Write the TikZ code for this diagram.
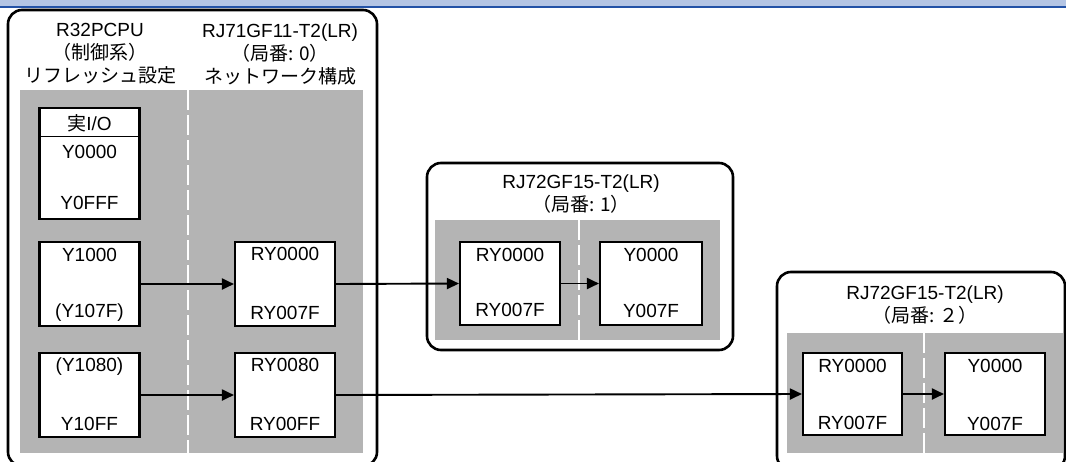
\documentclass[tikz,border=0pt]{standalone}
\usepackage{fontspec}
\setmainfont{Liberation Sans}
\newfontfamily\jp{Noto Sans CJK JP}
\usetikzlibrary{arrows.meta}
\definecolor{bandlight}{HTML}{B4C5E4}
\definecolor{bandline}{HTML}{2352A6}
\definecolor{panelgray}{HTML}{B4B4B4}
\tikzset{
  txt/.style={inner sep=0pt, font=\fontsize{19}{23}\selectfont, align=center},
  unitbox/.style={draw=black, line width=2.6pt, rounded corners=14pt},
  panel/.style={fill=panelgray, draw=none},
  divider/.style={draw=white, line width=1.8pt, dash pattern=on 20pt off 5pt},
  regbox/.style={draw=black, fill=white, line width=2.1pt, minimum width=100pt, minimum height=84pt, inner sep=0pt},
  conn/.style={draw=black, line width=1.9pt, -{Triangle[length=12pt,width=11pt]}}
}
\begin{document}
\begin{tikzpicture}[x=1pt,y=-1pt]
\useasboundingbox (0,0) rectangle (1066,461);
% header band
\fill[bandlight] (0,0) rectangle (1066,5.5);
\fill[bandline] (0,5.5) rectangle (1066,7.5);

% main unit
\draw[unitbox] (8,10) rectangle (377,466);
\fill[panel] (20,90) rectangle (363,453);
\draw[divider] (188,90) -- (188,453);
\node[txt] (h1) at (100,54) {R32PCPU\\{\jp （制御系）}\\{\jp リフレッシュ設定}};
\node[txt] (h2) at (280,54) {RJ71GF11-T2(LR)\\{\jp （局番: 0）}\\{\jp ネットワーク構成}};

% real I/O box
\node[regbox, minimum height=111pt] (rio) at (89.5,163.5) {};
\draw[line width=1pt] (40,136) -- (139,136);
\node[txt] at (89.5,123) {{\jp 実}I/O};
\node[txt] at (89.5,152) {Y0000};
\node[txt] at (89.5,203) {Y0FFF};

% refresh boxes
\node[regbox] (y1) at (89.5,284) {};
\node[txt] at ([yshift=-14.5pt]y1.north) {Y1000};
\node[txt] at ([yshift=14.5pt]y1.south) {(Y107F)};
\node[regbox] (y2) at (89.5,395) {};
\node[txt] at ([yshift=-14.5pt]y2.north) {(Y1080)};
\node[txt] at ([yshift=14.5pt]y2.south) {Y10FF};

% network config boxes
\node[regbox] (n1) at (285,284) {};
\node[txt] at ([yshift=-13pt]n1.north) {RY0000};
\node[txt] at ([yshift=14.5pt]n1.south) {RY007F};
\node[regbox] (n2) at (285,395) {};
\node[txt] at ([yshift=-13pt]n2.north) {RY0080};
\node[txt] at ([yshift=14.5pt]n2.south) {RY00FF};

% station 1
\draw[unitbox] (427,163) rectangle (733,350);
\fill[panel] (435,220) rectangle (720,340);
\draw[divider] (579,220) -- (579,340);
\node[txt] (t1) at (581,194.5) {RJ72GF15-T2(LR)\\{\jp （局番: 1）}};
\node[regbox, minimum height=83pt] (s1a) at (510,283.5) {};
\node[txt] at ([yshift=-14pt]s1a.north) {RY0000};
\node[txt] at ([yshift=16pt]s1a.south) {RY007F};
\node[regbox, minimum height=83pt, minimum width=102pt] (s1b) at (651,283.5) {};
\node[txt] at ([yshift=-14pt]s1b.north) {Y0000};
\node[txt] at ([yshift=15pt]s1b.south) {Y007F};

% station 2
\draw[unitbox] (777,272) rectangle (1065,470);
\fill[panel] (787,333) rectangle (1063,453);
\draw[divider] (924,333) -- (924,453);
\node[txt] (t2) at (925,305.5) {RJ72GF15-T2(LR)\\{\jp （局番: ２）}};
\node[regbox, minimum height=82pt, minimum width=99pt] (s2a) at (852.5,394) {};
\node[txt] at ([yshift=-14pt]s2a.north) {RY0000};
\node[txt] at ([yshift=13pt]s2a.south) {RY007F};
\node[regbox, minimum height=82pt] (s2b) at (995,394) {};
\node[txt] at ([yshift=-14pt]s2b.north) {Y0000};
\node[txt] at ([yshift=12pt]s2b.south) {Y007F};

% connectors
\draw[conn] (y1.east) -- (n1.west);
\draw[conn] (y2.east) -- (n2.west);
\draw[conn] (n1.east) -- (s1a.west);
\draw[conn] (s1a.east) -- (s1b.west);
\draw[conn] (n2.east) -- (s2a.west);
\draw[conn] (s2a.east) -- (s2b.west);
\end{tikzpicture}
\end{document}
